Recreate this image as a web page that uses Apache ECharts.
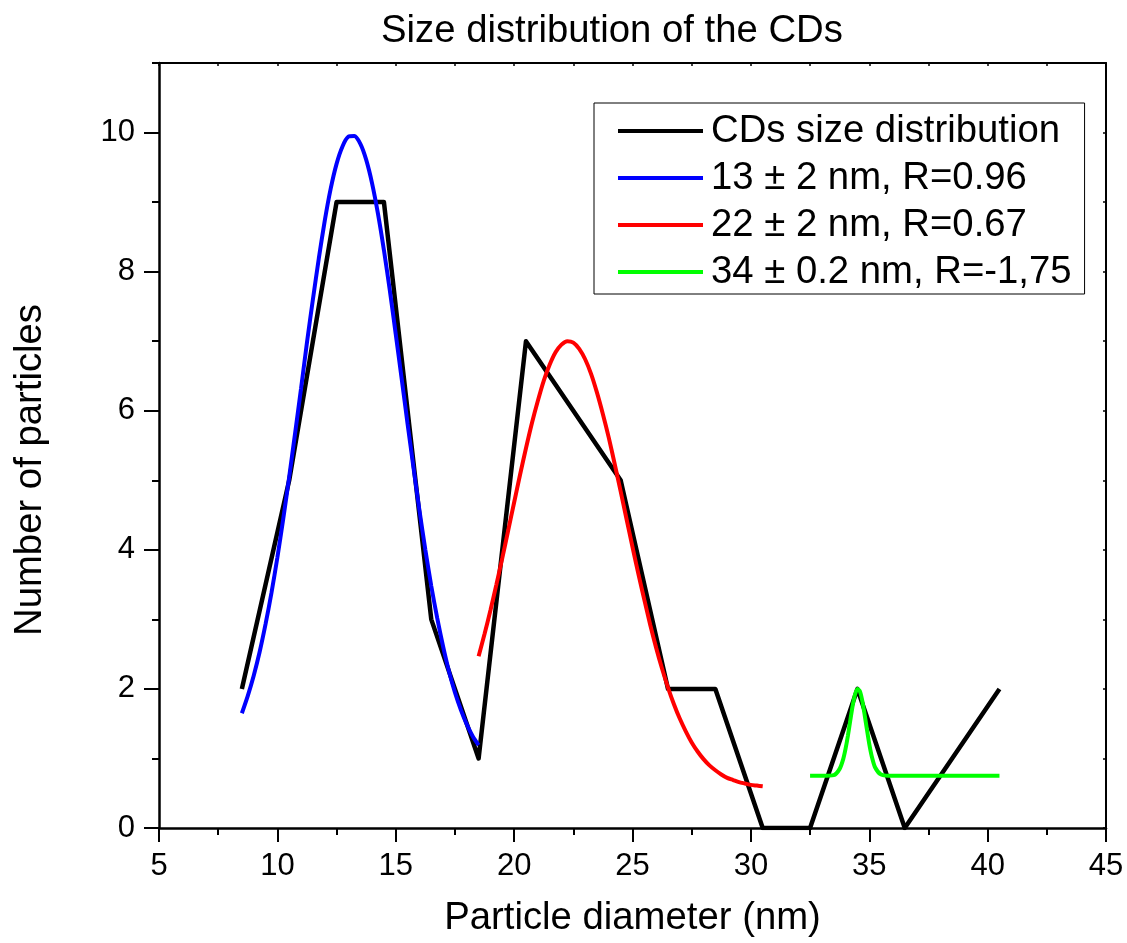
<!DOCTYPE html>
<html>
<head>
<meta charset="utf-8">
<script src="https://cdn.jsdelivr.net/npm/echarts@6/dist/echarts.min.js"></script>
<style>html,body{margin:0;padding:0;background:#fff;}#chart{width:1127px;height:943px;}</style>
</head>
<body>
<div id="chart"></div>
<script>
const titleText = 'Size distribution of the CDs';
const xAxisName = 'Particle diameter (nm)';
const yAxisName = 'Number of particles';
const seriesNames = ['CDs size distribution', '13 \u00b1 2 nm, R=0.96', '22 \u00b1 2 nm, R=0.67', '34 \u00b1 0.2 nm, R=-1,75'];

const sizeX = [8.5, 10.5, 12.5, 14.5, 16.5, 18.5, 20.5, 22.5, 24.5, 26.5, 28.5, 30.5, 32.5, 34.5, 36.5, 38.5, 40.5];
const sizeCounts = [2, 5, 9, 9, 3, 1, 7, 6, 5, 2, 2, 0, 0, 2, 0, 1, 2];

const blueX = [8.5, 8.75, 9, 9.25, 9.5, 9.75, 10, 10.25, 10.5, 10.75, 11, 11.25, 11.5, 11.75, 12, 12.25, 12.5, 12.75, 13, 13.25, 13.5, 13.75, 14, 14.25, 14.5, 14.75, 15, 15.25, 15.5, 15.75, 16, 16.25, 16.5, 16.75, 17, 17.25, 17.5, 17.75, 18, 18.25, 18.5];
const blueY = [1.65, 1.90, 2.19, 2.53, 2.93, 3.38, 3.89, 4.45, 5.05, 5.68, 6.32, 6.98, 7.60, 8.19, 8.73, 9.19, 9.55, 9.80, 9.94, 9.95, 9.84, 9.61, 9.27, 8.83, 8.31, 7.73, 7.10, 6.46, 5.81, 5.18, 4.57, 4.00, 3.48, 3.02, 2.61, 2.25, 1.95, 1.70, 1.49, 1.32, 1.19];

const redX = [18.5, 18.75, 19, 19.25, 19.5, 19.75, 20, 20.25, 20.5, 20.75, 21, 21.25, 21.5, 21.75, 22, 22.25, 22.5, 22.75, 23, 23.25, 23.5, 23.75, 24, 24.25, 24.5, 24.75, 25, 25.25, 25.5, 25.75, 26, 26.25, 26.5, 26.75, 27, 27.25, 27.5, 27.75, 28, 28.25, 28.5, 28.75, 29, 29.25, 29.5, 29.75, 30, 30.25, 30.5];
const redY = [2.47, 2.79, 3.13, 3.50, 3.88, 4.28, 4.68, 5.08, 5.46, 5.82, 6.14, 6.43, 6.66, 6.84, 6.95, 7.00, 6.98, 6.89, 6.74, 6.53, 6.26, 5.95, 5.61, 5.23, 4.84, 4.44, 4.04, 3.65, 3.28, 2.92, 2.59, 2.29, 2.02, 1.78, 1.57, 1.39, 1.23, 1.10, 0.99, 0.90, 0.83, 0.77, 0.72, 0.69, 0.66, 0.64, 0.62, 0.61, 0.60];

const greenX = [32.5, 33, 33.5, 33.75, 33.9, 34, 34.1, 34.2, 34.3, 34.4, 34.5, 34.6, 34.7, 34.8, 34.9, 35, 35.1, 35.25, 35.5, 36, 37, 38, 39, 40, 40.5];
const greenY = [0.75, 0.75, 0.76, 0.85, 0.99, 1.14, 1.33, 1.55, 1.76, 1.92, 2.00, 1.97, 1.84, 1.64, 1.42, 1.21, 1.04, 0.87, 0.77, 0.75, 0.75, 0.75, 0.75, 0.75, 0.75];

const yMajorTicks = [0, 2, 4, 6, 8, 10];
const yMinorTicks = [1, 3, 5, 7, 9, 11];

const FONT = '"Liberation Sans", Arial, sans-serif';
const BIG = 38.3;
const TICK = 31;
const pairs = (xs, ys) => xs.map((x, i) => [x, ys[i]]);

const chart = echarts.init(document.getElementById('chart'), null, {renderer: 'canvas'});
const axisLineStyle = {color: '#000', width: 2.5};
const option = {
  animation: false,
  backgroundColor: '#fff',
  title: {
    text: titleText,
    left: 376,
    top: 7,
    textStyle: {fontFamily: FONT, fontSize: BIG, fontWeight: 'normal', color: '#000'}
  },
  grid: {left: 159, right: 21, top: 63, bottom: 115, containLabel: false},
  legend: {
    orient: 'vertical',
    left: 594,
    top: 103,
    icon: 'rect',
    itemWidth: 85,
    itemHeight: 4,
    itemGap: 3,
    padding: [6, 13, 0, 24],
    borderColor: '#000',
    borderWidth: 1,
    backgroundColor: '#fff',
    textStyle: {fontFamily: FONT, fontSize: BIG, color: '#000', lineHeight: 44, padding: [0, 0, 0, 3]},
    data: seriesNames
  },
  xAxis: [
    {
      type: 'value', position: 'bottom', min: 5, max: 45, interval: 5,
      name: xAxisName, nameLocation: 'middle', nameGap: 71,
      nameTextStyle: {fontFamily: FONT, fontSize: BIG, color: '#000'},
      axisLine: {show: true, onZero: false, lineStyle: axisLineStyle},
      axisTick: {show: true, inside: false, length: 14, lineStyle: {color: '#000', width: 2}},
      minorTick: {show: true, splitNumber: 2, length: 7, lineStyle: {color: '#000', width: 2}},
      axisLabel: {show: true, margin: 23, fontFamily: FONT, fontSize: TICK, color: '#000'},
      splitLine: {show: false}
    },
    {
      type: 'value', position: 'top', min: 5, max: 45, interval: 5,
      axisLine: {show: true, onZero: false, lineStyle: {color: '#000', width: 2}},
      axisTick: {show: true, inside: true, length: 3, lineStyle: {color: '#000', width: 1.5}},
      minorTick: {show: true, splitNumber: 2, length: 3, lineStyle: {color: '#000', width: 1.5}},
      axisLabel: {show: false},
      splitLine: {show: false}
    }
  ],
  yAxis: [
    {
      type: 'value', position: 'left', min: 0, max: 11, interval: 1,
      axisLine: {show: true, onZero: false, lineStyle: axisLineStyle},
      axisTick: {show: true, inside: false, length: 15, customValues: yMajorTicks, lineStyle: {color: '#000', width: 2}},
      axisLabel: {show: true, margin: 24, customValues: yMajorTicks, fontFamily: FONT, fontSize: TICK, color: '#000'},
      splitLine: {show: false}
    },
    {
      type: 'value', position: 'left', min: 0, max: 11, interval: 1,
      axisLine: {show: false, onZero: false},
      axisTick: {show: true, inside: false, length: 7, customValues: yMinorTicks, lineStyle: {color: '#000', width: 2}},
      axisLabel: {show: false},
      splitLine: {show: false}
    },
    {
      type: 'value', position: 'right', min: 0, max: 11, interval: 1,
      axisLine: {show: true, onZero: false, lineStyle: {color: '#000', width: 2}},
      axisTick: {show: true, inside: true, length: 3, lineStyle: {color: '#000', width: 1.5}},
      axisLabel: {show: false},
      splitLine: {show: false}
    }
  ],
  graphic: [
    {
      type: 'text',
      x: 30, y: 470,
      rotation: Math.PI / 2,
      style: {text: yAxisName, font: BIG + 'px ' + FONT, fill: '#000', textAlign: 'center', textVerticalAlign: 'middle'}
    }
  ],
  series: [
    {name: seriesNames[0], type: 'line', data: pairs(sizeX, sizeCounts), symbol: 'none', showSymbol: false,
     lineStyle: {color: '#000', width: 4.5, join: 'round'}, itemStyle: {color: '#000'}, z: 2},
    {name: seriesNames[1], type: 'line', data: pairs(blueX, blueY), symbol: 'none', showSymbol: false, smooth: 0.25,
     lineStyle: {color: '#0000ff', width: 4}, itemStyle: {color: '#0000ff'}, z: 3},
    {name: seriesNames[2], type: 'line', data: pairs(redX, redY), symbol: 'none', showSymbol: false, smooth: 0.25,
     lineStyle: {color: '#ff0000', width: 4}, itemStyle: {color: '#ff0000'}, z: 3},
    {name: seriesNames[3], type: 'line', data: pairs(greenX, greenY), symbol: 'none', showSymbol: false, smooth: 0.25,
     lineStyle: {color: '#00ff00', width: 4}, itemStyle: {color: '#00ff00'}, z: 3}
  ]
};
chart.setOption(option);
</script>
</body>
</html>
